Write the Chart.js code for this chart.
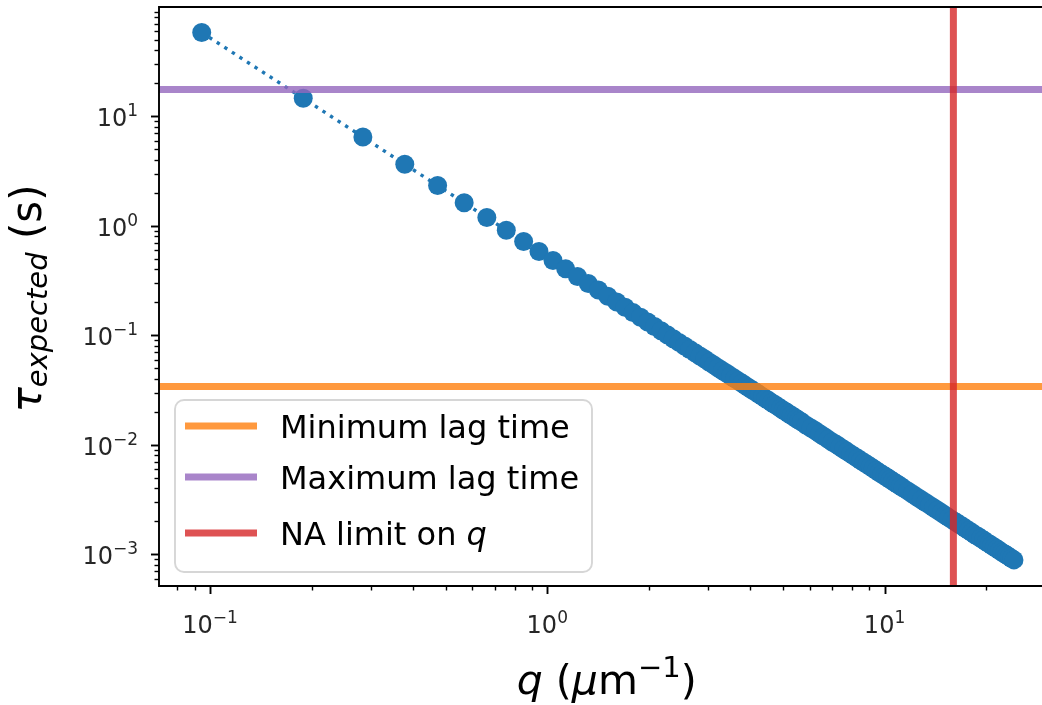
<!DOCTYPE html>
<html>
<head>
<meta charset="utf-8">
<script src="https://cdn.jsdelivr.net/npm/chart.js@4/dist/chart.umd.min.js"></script>
<style>
  html, body { margin: 0; padding: 0; background: #fff; overflow: hidden; }
  #wrap { width: 1042px; height: 705px; }
</style>
</head>
<body>
<div id="wrap"><canvas id="chart" width="1042" height="705"></canvas></div>
<script>
// ─── Data ────────────────────────────────────────────
const qValues = [
  0.0945, 0.189, 0.284, 0.378, 0.473, 0.567, 0.662, 0.756, 0.851, 0.945,
  1.040, 1.134, 1.229, 1.323, 1.418, 1.512, 1.607, 1.701, 1.796, 1.890,
  1.985, 2.079, 2.174, 2.268, 2.363, 2.457, 2.552, 2.646, 2.741, 2.835,
  2.930, 3.024, 3.119, 3.213, 3.308, 3.402, 3.497, 3.591, 3.686, 3.780,
  3.875, 3.969, 4.064, 4.158, 4.253, 4.347, 4.442, 4.536, 4.631, 4.725,
  4.820, 4.914, 5.009, 5.103, 5.198, 5.292, 5.387, 5.481, 5.576, 5.670,
  5.859, 6.048, 6.237, 6.426, 6.615, 6.804, 6.993, 7.182, 7.371, 7.560,
  7.749, 7.938, 8.127, 8.316, 8.505, 8.694, 8.883, 9.072, 9.261, 9.450,
  9.639, 9.828, 10.017, 10.206, 10.395, 10.584, 10.773, 10.962, 11.151, 11.340,
  11.718, 12.096, 12.474, 12.852, 13.230, 13.608, 13.986, 14.364, 14.742, 15.120,
  15.498, 15.876, 16.254, 16.632, 17.010, 17.388, 17.766, 18.144, 18.522, 18.900,
  19.278, 19.656, 20.034, 20.412, 20.790, 21.168, 21.546, 21.924, 22.302, 22.680,
  23.058, 23.436, 23.814, 24.192
];
const tauValues = [
  58.2, 14.6, 6.47, 3.64, 2.33, 1.62, 1.19, 0.909, 0.719, 0.582,
  0.481, 0.404, 0.344, 0.297, 0.259, 0.227, 0.201, 0.180, 0.161, 0.146,
  0.132, 0.120, 0.110, 0.101, 0.0931, 0.0861, 0.0798, 0.0742, 0.0692, 0.0647,
  0.0606, 0.0568, 0.0534, 0.0503, 0.0475, 0.0449, 0.0425, 0.0403, 0.0383, 0.0364,
  0.0346, 0.0330, 0.0315, 0.0301, 0.0287, 0.0275, 0.0263, 0.0253, 0.0242, 0.0233,
  0.0224, 0.0215, 0.0207, 0.0200, 0.0192, 0.0186, 0.0179, 0.0173, 0.0167, 0.0162,
  0.0151, 0.0142, 0.0134, 0.0126, 0.0119, 0.0112, 0.0106, 0.0101, 0.00957, 0.00909,
  0.00866, 0.00825, 0.00787, 0.00752, 0.00719, 0.00688, 0.00659, 0.00632, 0.00606, 0.00582,
  0.00559, 0.00538, 0.00518, 0.00499, 0.00481, 0.00464, 0.00448, 0.00433, 0.00418, 0.00404,
  0.00379, 0.00355, 0.00334, 0.00315, 0.00297, 0.00281, 0.00266, 0.00252, 0.00239, 0.00227,
  0.00216, 0.00206, 0.00197, 0.00188, 0.00180, 0.00172, 0.00165, 0.00158, 0.00151, 0.00146,
  0.00140, 0.00135, 0.00129, 0.00125, 0.00120, 0.00116, 0.00112, 0.00108, 0.00104, 0.00101,
  0.000978, 0.000946, 0.000916, 0.000888
];
const minLagTime = 0.034;
const maxLagTime = 17.6;
const naLimitQ = 16.0;

const xLimits = [0.0706, 29.3];
const yLimits = [0.000513, 99.5];
const xTickExps = [-1, 0, 1];
const yTickExps = [-3, -2, -1, 0, 1];
const legendLabels = ['Minimum lag time', 'Maximum lag time', 'NA limit on '];

const colors = {
  blue: '#1f77b4',
  orange: 'rgba(255,127,14,0.8)',
  purple: 'rgba(148,103,189,0.8)',
  red: 'rgba(214,39,40,0.8)',
};
const FONT = '"DejaVu Sans", sans-serif';

// ─── Helpers for mathtext-like labels ────────────────
function drawRuns(ctx, runs, x, y, align) {
  let total = 0;
  runs.forEach((r) => { ctx.font = r.font; total += ctx.measureText(r.text).width; });
  let cx = align === 'center' ? x - total / 2 : align === 'right' ? x - total : x;
  ctx.textAlign = 'left';
  ctx.textBaseline = 'alphabetic';
  runs.forEach((r) => {
    ctx.font = r.font;
    ctx.fillText(r.text, cx, y + (r.dy || 0));
    cx += ctx.measureText(r.text).width;
  });
}
function powRuns(exp) {
  const s = exp < 0 ? '\u2212' + (-exp) : String(exp);
  return [
    { text: '10', font: '24px ' + FONT },
    { text: s, font: '17px ' + FONT, dy: -10 },
  ];
}

// ─── Axes, ticks, labels, legend ─────────────────────
const decor = {
  id: 'decor',
  afterDatasetsDraw(chart) {
    const { ctx, chartArea: a, scales: { x, y } } = chart;
    ctx.save();
    ctx.fillStyle = '#000';
    ctx.strokeStyle = '#000';

    // spines
    ctx.lineWidth = 1.9;
    ctx.beginPath();
    ctx.moveTo(a.right + 2, a.top); ctx.lineTo(a.left, a.top);
    ctx.lineTo(a.left, a.bottom); ctx.lineTo(a.right + 2, a.bottom);
    ctx.stroke();

    // ticks
    const tick = (px, py, dx, dy, w) => {
      ctx.lineWidth = w;
      ctx.beginPath(); ctx.moveTo(px, py); ctx.lineTo(px + dx, py + dy); ctx.stroke();
    };
    for (let e = -2; e <= 2; e++) {
      for (let m = 1; m <= 9; m++) {
        const v = m * Math.pow(10, e);
        if (v >= xLimits[0] && v <= xLimits[1]) {
          const px = Math.round(x.getPixelForValue(v)) + 0.5;
          tick(px, a.bottom, 0, m === 1 ? 8 : 4.5, m === 1 ? 1.9 : 1.4);
        }
      }
    }
    for (let e = -4; e <= 2; e++) {
      for (let m = 1; m <= 9; m++) {
        const v = m * Math.pow(10, e);
        if (v >= yLimits[0] && v <= yLimits[1]) {
          const py = Math.round(y.getPixelForValue(v)) + 0.5;
          tick(a.left, py, m === 1 ? -8 : -4.5, 0, m === 1 ? 1.9 : 1.4);
        }
      }
    }

    // tick labels
    ctx.fillStyle = '#262626';
    xTickExps.forEach((e) => {
      drawRuns(ctx, powRuns(e), x.getPixelForValue(Math.pow(10, e)), 633, 'center');
    });
    yTickExps.forEach((e) => {
      drawRuns(ctx, powRuns(e), 138, y.getPixelForValue(Math.pow(10, e)) + 10, 'right');
    });

    // axis titles
    ctx.fillStyle = '#000';
    const xMid = (a.left + x.getPixelForValue(31.9)) / 2;
    drawRuns(ctx, [
      { text: 'q', font: 'italic 41px ' + FONT },
      { text: ' (', font: '41px ' + FONT },
      { text: '\u03bc', font: 'italic 41px ' + FONT },
      { text: 'm', font: '41px ' + FONT },
      { text: '\u22121', font: '29px ' + FONT, dy: -17 },
      { text: ')', font: '41px ' + FONT },
    ], xMid, 694, 'center');

    ctx.save();
    ctx.translate(41, (a.top + a.bottom) / 2 + 2);
    ctx.rotate(-Math.PI / 2);
    drawRuns(ctx, [
      { text: '\u03c4', font: 'italic 42px ' + FONT },
      { text: 'expected', font: 'italic 29px ' + FONT, dy: 6 },
      { text: ' (s)', font: '42px ' + FONT },
    ], 0, 0, 'center');
    ctx.restore();

    // legend
    const bx = 175, by = 400, bw = 417, bh = 172, r = 9;
    ctx.beginPath();
    ctx.roundRect(bx, by, bw, bh, r);
    ctx.fillStyle = 'rgba(255,255,255,0.8)';
    ctx.fill();
    ctx.lineWidth = 1.9;
    ctx.strokeStyle = 'rgba(204,204,204,0.8)';
    ctx.stroke();

    const rows = [426, 477, 533];
    const swatch = [colors.orange, colors.purple, colors.red];
    rows.forEach((ry, i) => {
      ctx.strokeStyle = swatch[i];
      ctx.lineWidth = 7;
      ctx.lineCap = 'butt';
      ctx.beginPath(); ctx.moveTo(185, ry); ctx.lineTo(257, ry); ctx.stroke();
      ctx.fillStyle = '#000';
      const runs = [{ text: legendLabels[i], font: '32px ' + FONT }];
      if (i === 2) runs.push({ text: 'q', font: 'italic 32px ' + FONT });
      drawRuns(ctx, runs, 280, ry + 11.5, 'left');
    });
    ctx.restore();
  },
};

// ─── Chart ───────────────────────────────────────────
const points = qValues.map((q, i) => ({ x: q, y: tauValues[i] }));
const hLine = (v) => [{ x: 0.001, y: v }, { x: 1000, y: v }];
const hiddenAxis = (lim) => ({
  type: 'logarithmic', min: lim[0], max: lim[1],
  ticks: { display: false, padding: 0 },
  grid: { display: false, drawTicks: false, tickLength: 0 },
  border: { display: false },
});

new Chart(document.getElementById('chart'), {
  type: 'line',
  data: {
    datasets: [
      {
        label: 'tau',
        data: points,
        order: 4,
        borderColor: colors.blue,
        borderWidth: 3.4,
        borderDash: [3.4, 5.6],
        borderCapStyle: 'butt',
        pointRadius: 9.5,
        pointBackgroundColor: colors.blue,
        pointBorderWidth: 0,
        tension: 0,
      },
      { label: 'min', data: hLine(minLagTime), order: 3, borderColor: colors.orange, borderWidth: 7, pointRadius: 0 },
      { label: 'max', data: hLine(maxLagTime), order: 2, borderColor: colors.purple, borderWidth: 7, pointRadius: 0 },
      {
        label: 'na',
        data: [{ x: naLimitQ, y: 1e-6 }, { x: naLimitQ, y: 1e4 }],
        order: 1, borderColor: colors.red, borderWidth: 7, pointRadius: 0,
      },
    ],
  },
  options: {
    responsive: false,
    animation: false,
    events: [],
    layout: { autoPadding: false, padding: { left: 159, top: 7, right: 0, bottom: 119 } },
    plugins: { legend: { display: false }, tooltip: { enabled: false } },
    scales: { x: hiddenAxis(xLimits), y: hiddenAxis(yLimits) },
  },
  plugins: [decor],
});
</script>
</body>
</html>
